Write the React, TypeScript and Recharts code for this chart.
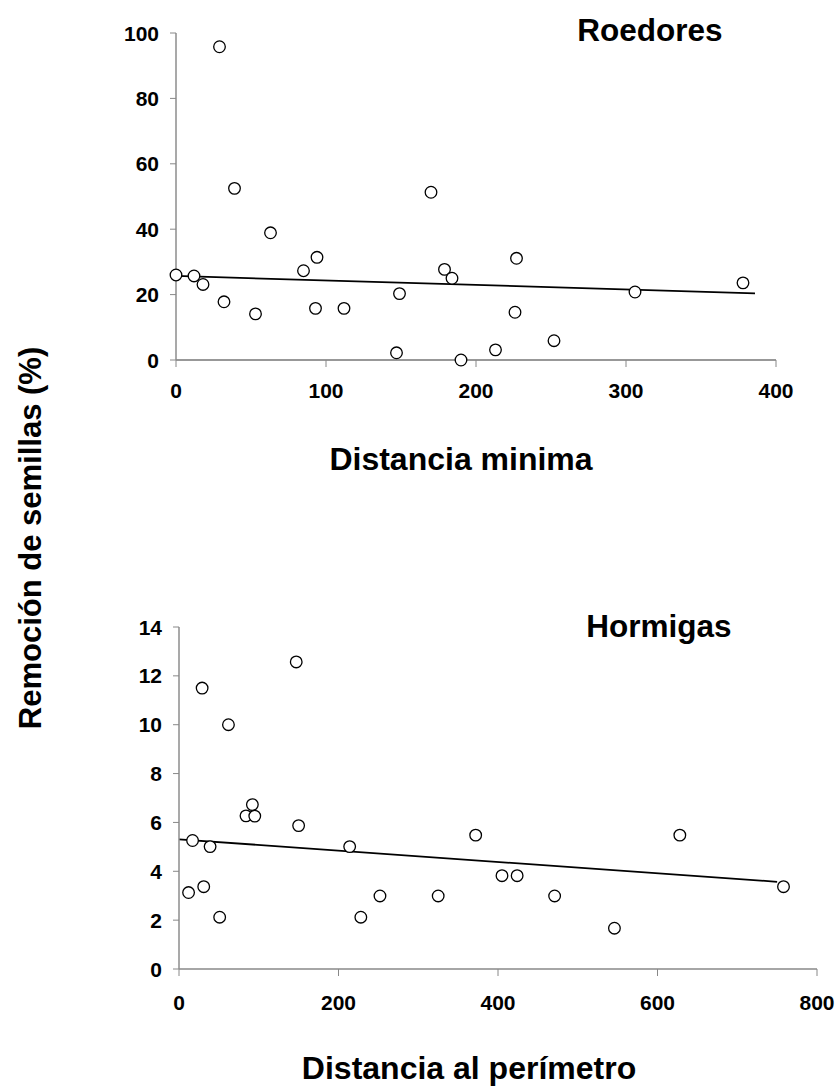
import React from 'react';
import { ScatterChart, Scatter, XAxis, YAxis, ReferenceLine } from 'recharts';

// Roedores (top panel)
const roedoresX = [0, 12, 18, 29, 32, 39, 53, 63, 85, 93, 94, 112, 147, 149, 170, 179, 184, 190, 213, 226, 227, 252, 306, 378];
const roedoresY = [26, 25.7, 23.1, 95.8, 17.8, 52.5, 14.1, 38.9, 27.3, 15.8, 31.4, 15.8, 2.2, 20.3, 51.3, 27.7, 25.0, 0, 3.1, 14.6, 31.1, 5.9, 20.8, 23.6];
const roedoresTrendX = [0, 386];
const roedoresTrendY = [25.7, 20.4];
const roedoresXTicks = [0, 100, 200, 300, 400];
const roedoresYTicks = [0, 20, 40, 60, 80, 100];

// Hormigas (bottom panel)
const hormigasX = [12, 17, 29, 31, 39, 51, 62, 84, 92, 95, 147, 150, 214, 228, 252, 325, 372, 405, 424, 471, 546, 628, 758];
const hormigasY = [3.13, 5.26, 11.5, 3.37, 5.01, 2.12, 10.0, 6.27, 6.73, 6.26, 12.57, 5.87, 5.01, 2.12, 2.99, 2.99, 5.48, 3.82, 3.82, 2.99, 1.67, 5.48, 3.37];
const hormigasTrendX = [0, 750];
const hormigasTrendY = [5.31, 3.57];
const hormigasXTicks = [0, 200, 400, 600, 800];
const hormigasYTicks = [0, 2, 4, 6, 8, 10, 12, 14];

const FONT = '"Liberation Sans", Arial, Helvetica, sans-serif';

const roedoresData = roedoresX.map((x, i) => ({ x, y: roedoresY[i] }));
const hormigasData = hormigasX.map((x, i) => ({ x, y: hormigasY[i] }));

const Dot = (props: any) => {
  const { cx, cy } = props;
  if (cx == null || cy == null) return null;
  return <circle cx={cx} cy={cy} r={5.8} fill="#fff" stroke="#000" strokeWidth={1.3} />;
};

const XTick = (props: any) => {
  const { x, y, payload } = props;
  return (
    <text x={x} y={y} dy="0.72em" textAnchor="middle" fontFamily={FONT} fontSize={21} fontWeight="bold" fill="#000">
      {payload.value}
    </text>
  );
};

const YTick = (props: any) => {
  const { x, y, payload } = props;
  return (
    <text x={x} y={y} dy="0.36em" textAnchor="end" fontFamily={FONT} fontSize={21} fontWeight="bold" fill="#000">
      {payload.value}
    </text>
  );
};

export default function App() {
  return (
    <div style={{ position: 'absolute', left: 0, top: 0, width: 839, height: 1088, background: '#fff' }}>
      <div style={{ position: 'absolute', left: 0, top: 0 }}>
        <ScatterChart width={839} height={420} margin={{ top: 33, right: 63, left: 116, bottom: 20 }}>
          <XAxis
            type="number"
            dataKey="x"
            domain={[0, 400]}
            ticks={roedoresXTicks}
            height={40}
            tickSize={7}
            tickMargin={16}
            axisLine={{ stroke: '#333', strokeWidth: 1.2 }}
            tickLine={{ stroke: '#888' }}
            tick={<XTick />}
            interval={0}
          />
          <YAxis
            type="number"
            dataKey="y"
            domain={[0, 100]}
            ticks={roedoresYTicks}
            width={60}
            tickSize={6}
            tickMargin={11}
            axisLine={{ stroke: '#8c8c8c', strokeWidth: 1.5 }}
            tickLine={{ stroke: '#888' }}
            tick={<YTick />}
            interval={0}
          />
          <ReferenceLine
            segment={[
              { x: roedoresTrendX[0], y: roedoresTrendY[0] },
              { x: roedoresTrendX[1], y: roedoresTrendY[1] },
            ]}
            stroke="#000"
            strokeWidth={1.8}
          />
          <Scatter data={roedoresData} shape={Dot} isAnimationActive={false} />
        </ScatterChart>
      </div>
      <div style={{ position: 'absolute', left: 0, top: 580 }}>
        <ScatterChart width={839} height={440} margin={{ top: 47, right: 22, left: 119, bottom: 0 }}>
          <XAxis
            type="number"
            dataKey="x"
            domain={[0, 800]}
            ticks={hormigasXTicks}
            height={51}
            tickSize={7}
            tickMargin={19}
            axisLine={{ stroke: '#888', strokeWidth: 1.5 }}
            tickLine={{ stroke: '#888' }}
            tick={<XTick />}
            interval={0}
          />
          <YAxis
            type="number"
            dataKey="y"
            domain={[0, 14]}
            ticks={hormigasYTicks}
            width={60}
            tickSize={6}
            tickMargin={11}
            axisLine={{ stroke: '#8c8c8c', strokeWidth: 1.5 }}
            tickLine={{ stroke: '#888' }}
            tick={<YTick />}
            interval={0}
          />
          <ReferenceLine
            segment={[
              { x: hormigasTrendX[0], y: hormigasTrendY[0] },
              { x: hormigasTrendX[1], y: hormigasTrendY[1] },
            ]}
            stroke="#000"
            strokeWidth={1.8}
          />
          <Scatter data={hormigasData} shape={Dot} isAnimationActive={false} />
        </ScatterChart>
      </div>
      <svg
        width={839}
        height={1088}
        style={{ position: 'absolute', left: 0, top: 0, pointerEvents: 'none' }}
      >
        <g fontFamily={FONT} fontWeight="bold" fill="#000">
          <text x={650} y={41} fontSize={31.5} textAnchor="middle">Roedores</text>
          <text x={659} y={637} fontSize={31.5} textAnchor="middle">Hormigas</text>
          <text x={461} y={470} fontSize={32} textAnchor="middle">Distancia minima</text>
          <text x={469} y={1079} fontSize={32} textAnchor="middle">Distancia al perímetro</text>
          <text x={0} y={0} fontSize={31} textAnchor="middle" transform="translate(41,538) rotate(-90)">
            Remoción de semillas (%)
          </text>
        </g>
      </svg>
    </div>
  );
}
